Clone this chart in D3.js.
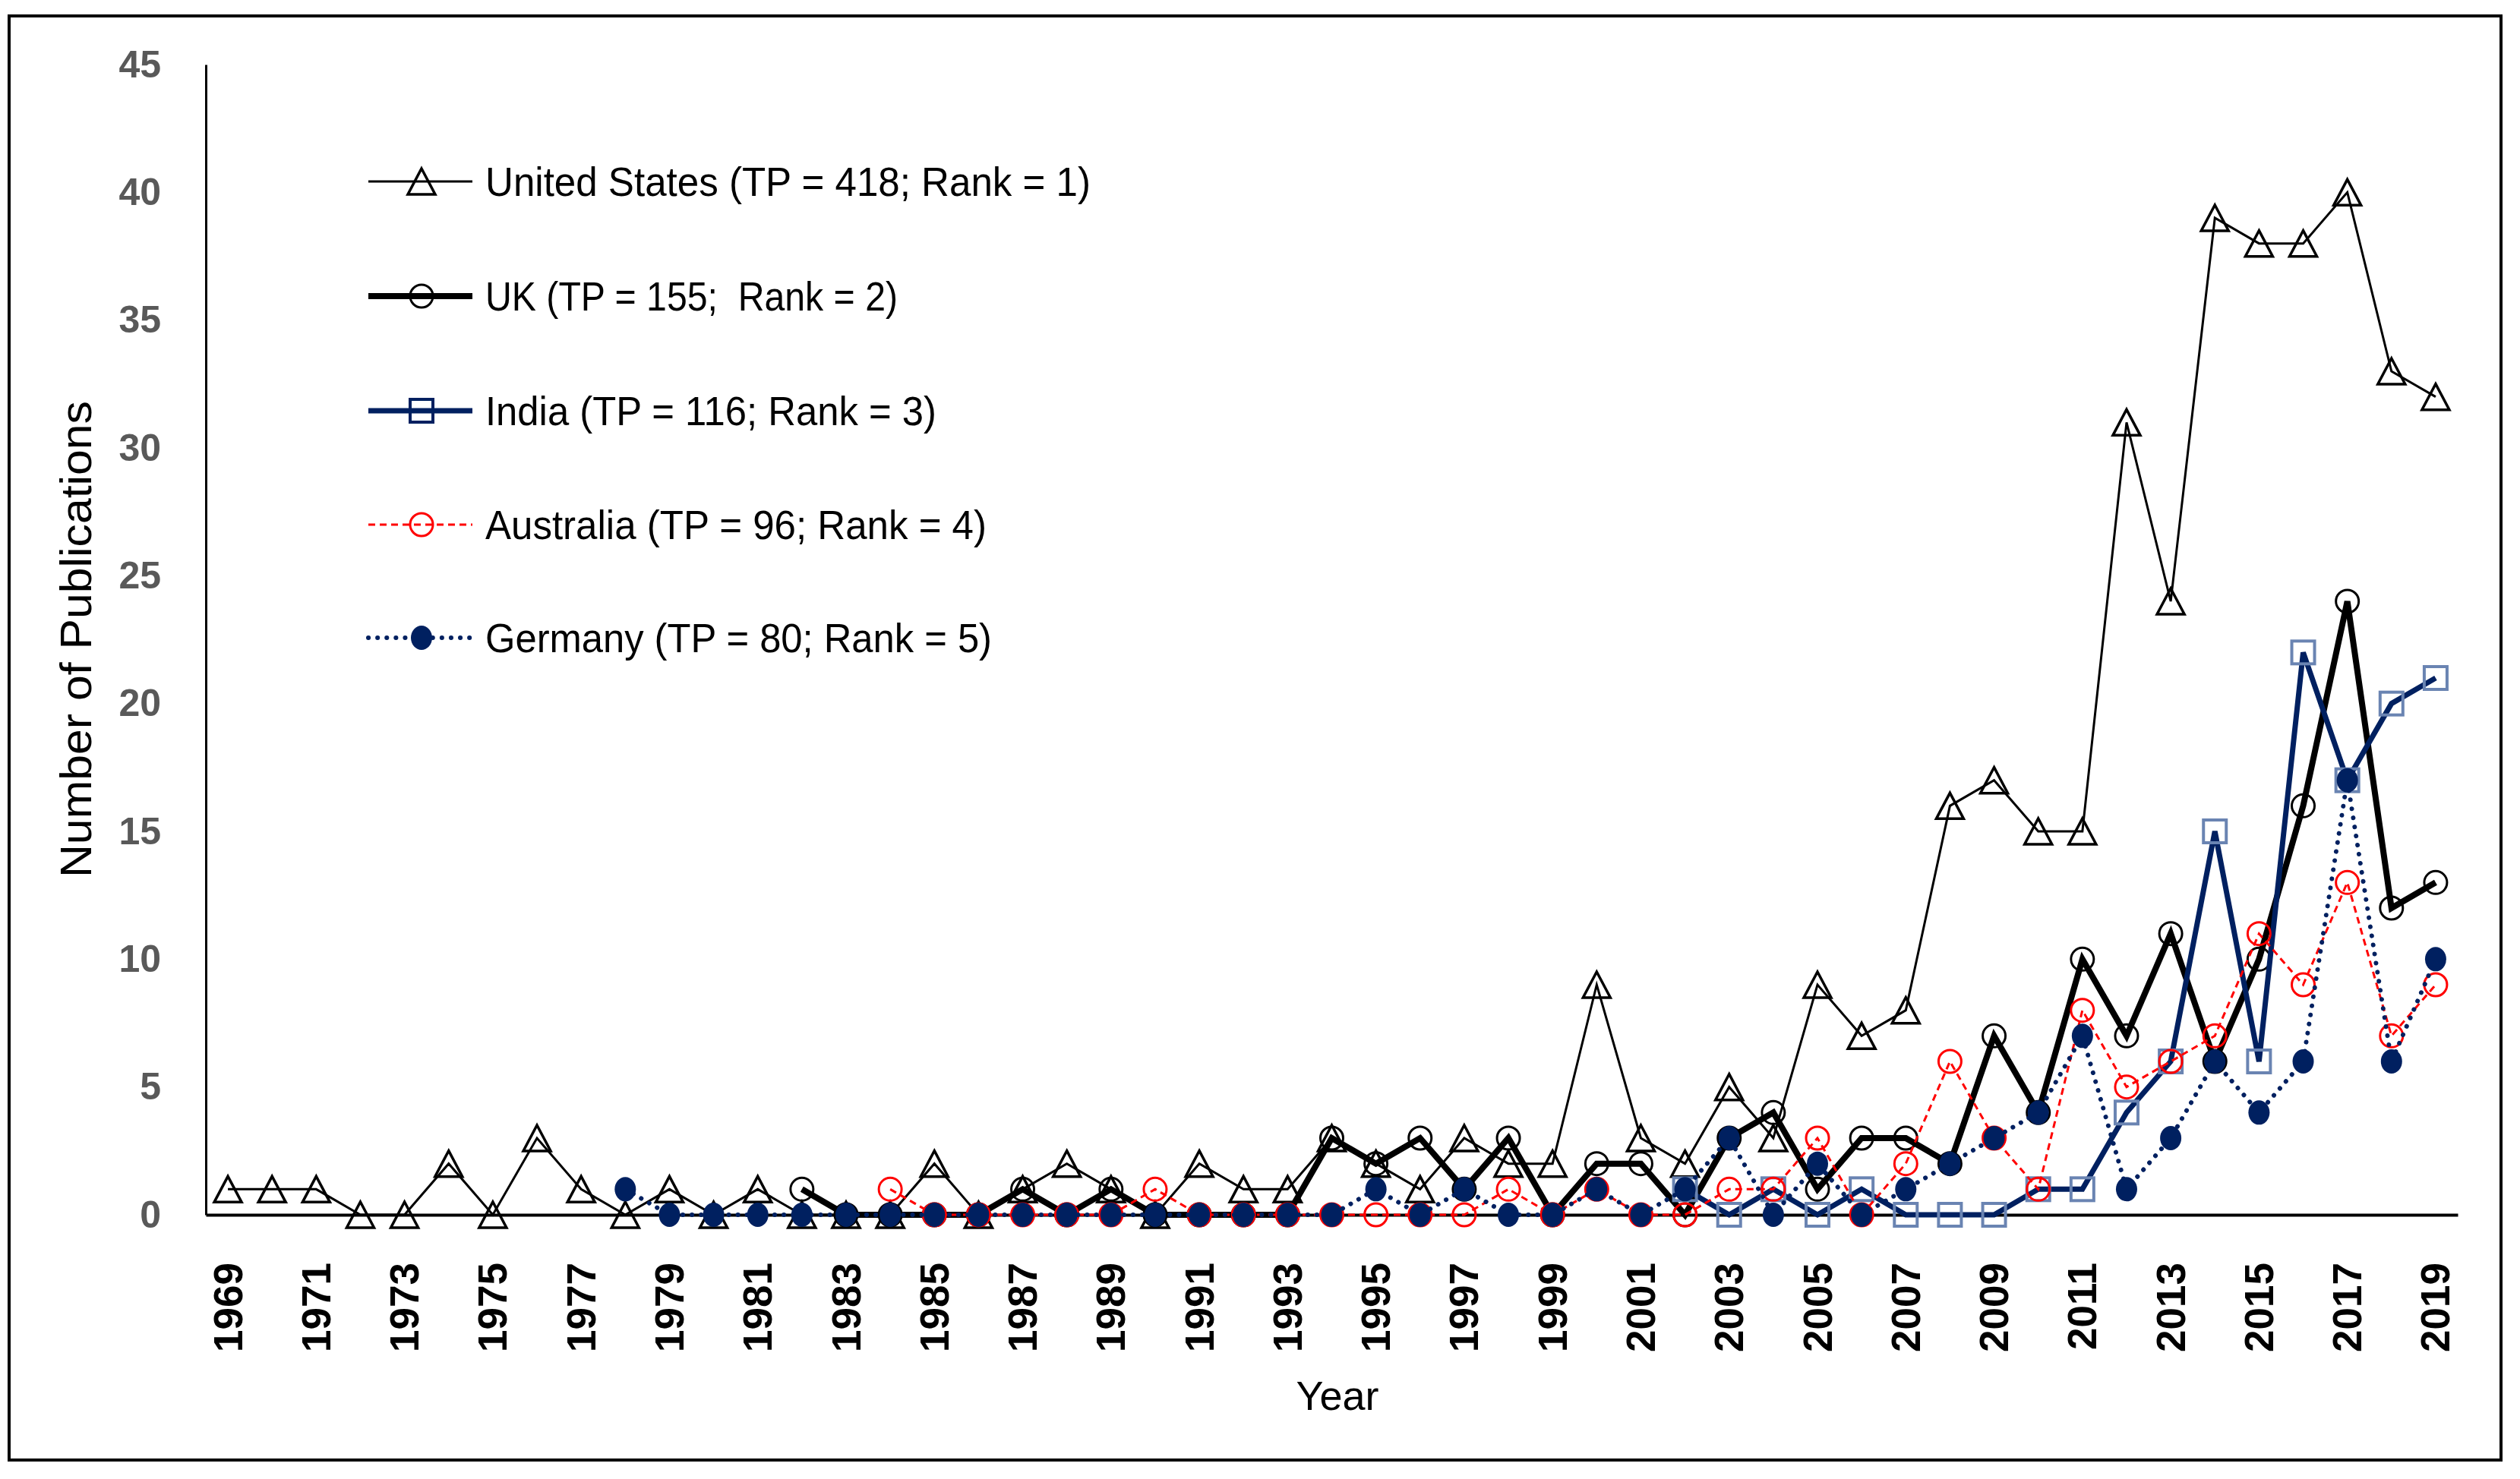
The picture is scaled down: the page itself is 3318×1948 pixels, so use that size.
<!DOCTYPE html>
<html>
<head>
<meta charset="utf-8">
<script src="https://cdn.jsdelivr.net/npm/d3@7/dist/d3.min.js"></script>
<style>
  html, body { margin: 0; padding: 0; background: #fff; }
  svg { display: block; }
</style>
</head>
<body>
<svg id="chart" width="3318" height="1948"></svg>
<script>
// ---------------- DATA ----------------
const years = [1969,1970,1971,1972,1973,1974,1975,1976,1977,1978,1979,
  1980,1981,1982,1983,1984,1985,1986,1987,1988,1989,
  1990,1991,1992,1993,1994,1995,1996,1997,1998,1999,
  2000,2001,2002,2003,2004,2005,2006,2007,2008,2009,
  2010,2011,2012,2013,2014,2015,2016,2017,2018,2019];
const xTickLabels = ["1969","1971","1973","1975","1977","1979","1981","1983","1985","1987","1989",
  "1991","1993","1995","1997","1999","2001","2003","2005","2007","2009","2011","2013","2015","2017","2019"];
const yTicks = [0,5,10,15,20,25,30,35,40,45];

const usStart = 1969;
const usValues = [1,1,1,0,0,2,0,3,1,0,1,
  0,1,0,0,0,2,0,1,2,1,
  0,2,1,1,3,2,1,3,2,2,
  9,3,2,5,3,9,7,8,16,17,
  15,15,31,24,39,38,38,40,33,32];
const ukStart = 1982;
const ukValues = [1,0,0,0,0,1,0,1,
  0,0,0,0,3,2,3,1,3,0,
  2,2,0,3,4,1,3,3,2,7,
  4,10,7,11,6,10,16,24,12,13];
const indiaStart = 2002;
const indiaValues = [1,0,1,0,1,0,0,0,
  1,1,4,6,15,6,22,17,20,21];
const ausStart = 1984;
const ausValues = [1,0,0,0,0,0,
  1,0,0,0,0,0,0,0,1,0,
  1,0,0,1,1,3,0,2,6,3,
  1,8,5,6,7,11,9,13,7,9];
const gerStart = 1978;
const gerValues = [1,0,
  0,0,0,0,0,0,0,0,0,0,
  0,0,0,0,0,1,0,1,0,0,
  1,0,1,3,0,2,0,1,2,3,
  4,7,1,3,6,4,6,17,6,10];

const seriesNames = [
  "United States (TP = 418; Rank = 1)",
  "UK (TP = 155;  Rank = 2)",
  "India (TP = 116; Rank = 3)",
  "Australia (TP = 96; Rank = 4)",
  "Germany (TP = 80; Rank = 5)"
];

// ---------------- LAYOUT ----------------
const svg = d3.select("#chart");
const W = 3318, H = 1948;
const plotL = 271, plotR = 3236, plotT = 85, plotB = 1600;
const FONT = "'Liberation Sans', Arial, sans-serif";

svg.append("rect").attr("x", 0).attr("y", 0).attr("width", W).attr("height", H).attr("fill", "#fff");
// outer frame
svg.append("rect").attr("x", 12).attr("y", 21).attr("width", 3281).attr("height", 1902)
  .attr("fill", "none").attr("stroke", "#000").attr("stroke-width", 4);

const x = d3.scaleBand().domain(years).range([plotL, plotR]).paddingInner(0).paddingOuter(0);
const cx = yr => x(yr) + x.bandwidth() / 2;
const y = d3.scaleLinear().domain([0, 45]).range([plotB, plotT]);

// axes
const yAxis = d3.axisLeft(y).tickValues(yTicks).tickSize(0).tickSizeOuter(0).tickPadding(59);
const gy = svg.append("g").attr("transform", `translate(${plotL},0)`).call(yAxis);
gy.select(".domain").attr("stroke", "#000").attr("stroke-width", 3);
gy.selectAll("text").attr("font-family", FONT).attr("font-size", 50).attr("font-weight", "bold")
  .attr("fill", "#595959");

const xAxis = d3.axisBottom(x).tickValues(xTickLabels.map(Number)).tickSize(0).tickSizeOuter(0);
const gx = svg.append("g").attr("transform", `translate(0,${plotB})`).call(xAxis);
gx.select(".domain").attr("stroke", "#000").attr("stroke-width", 4);
gx.selectAll("text")
  .attr("font-family", FONT).attr("font-size", 53).attr("font-weight", "bold").attr("fill", "#000")
  .attr("transform", "rotate(-90)")
  .attr("x", -63).attr("y", 0).attr("dy", "0.35em")
  .style("text-anchor", "end");

// axis titles
svg.append("text").attr("transform", "translate(120,842) rotate(-90)")
  .attr("text-anchor", "middle").attr("font-family", FONT).attr("font-size", 58)
  .attr("fill", "#000").attr("textLength", 628).attr("lengthAdjust", "spacingAndGlyphs")
  .text("Number of Publications");
svg.append("text").attr("x", 1761).attr("y", 1857)
  .attr("text-anchor", "middle").attr("font-family", FONT).attr("font-size", 54)
  .attr("fill", "#000").text("Year");

// ---------------- SERIES ----------------
function build(start, vals) { return vals.map((v, i) => ({ year: start + i, value: v })); }

const NAVY = "#002060";
const series = [
  { name: seriesNames[0], data: build(usStart, usValues), color: "#000", width: 3, dash: null, cap: "butt",
    marker: "triangle", mStroke: "#000", mFill: "none", legendMStroke: "#000" },
  { name: seriesNames[1], data: build(ukStart, ukValues), color: "#000", width: 8, dash: null, cap: "butt",
    marker: "circle", mStroke: "#000", mFill: "none", legendMStroke: "#000" },
  { name: seriesNames[2], data: build(indiaStart, indiaValues), color: NAVY, width: 7, dash: null, cap: "butt",
    marker: "square", mStroke: "#6a84b2", mFill: "none", legendMStroke: NAVY },
  { name: seriesNames[3], data: build(ausStart, ausValues), color: "#ff0000", width: 3, dash: "9,6", cap: "butt",
    marker: "circle", mStroke: "#ff0000", mFill: "none", legendMStroke: "#ff0000" },
  { name: seriesNames[4], data: build(gerStart, gerValues), color: NAVY, width: 6, dash: "0.1,12", cap: "round",
    marker: "dot", mStroke: NAVY, mFill: NAVY, legendMStroke: NAVY }
];

const line = d3.line().x(d => cx(d.year)).y(d => y(d.value));

function drawMarker(g, type, px, py, stroke, fill) {
  if (type === "triangle") {
    g.append("path").attr("d", `M${px},${py - 17} L${px + 18},${py + 17} L${px - 18},${py + 17} Z`)
      .attr("fill", fill).attr("stroke", stroke).attr("stroke-width", 3.5).attr("stroke-linejoin", "miter");
  } else if (type === "circle") {
    g.append("circle").attr("cx", px).attr("cy", py).attr("r", 15)
      .attr("fill", fill).attr("stroke", stroke).attr("stroke-width", 3);
  } else if (type === "square") {
    g.append("rect").attr("x", px - 15).attr("y", py - 15).attr("width", 30).attr("height", 30)
      .attr("fill", fill).attr("stroke", stroke).attr("stroke-width", 4);
  } else if (type === "dot") {
    g.append("ellipse").attr("cx", px).attr("cy", py).attr("rx", 14).attr("ry", 16)
      .attr("fill", fill).attr("stroke", "none");
  }
}

series.forEach(s => {
  const g = svg.append("g");
  g.append("path").datum(s.data).attr("d", line)
    .attr("fill", "none").attr("stroke", s.color).attr("stroke-width", s.width)
    .attr("stroke-dasharray", s.dash).attr("stroke-linecap", s.cap).attr("stroke-linejoin", "miter");
  s.data.forEach(d => drawMarker(g, s.marker, cx(d.year), y(d.value), s.mStroke, s.mFill));
});

// ---------------- LEGEND ----------------
const legendY = [239, 390, 541, 691, 840];
const legendTextEnd = [1436, 1182, 1233, 1299, 1306];
const legX0 = 485, legX1 = 622, legMX = 555, legTX = 639;
series.forEach((s, i) => {
  const g = svg.append("g");
  const ly = legendY[i];
  g.append("line").attr("x1", legX0).attr("x2", legX1).attr("y1", ly).attr("y2", ly)
    .attr("stroke", s.color).attr("stroke-width", s.width)
    .attr("stroke-dasharray", s.dash).attr("stroke-linecap", s.cap);
  drawMarker(g, s.marker, legMX, ly, s.legendMStroke, s.mFill);
  g.append("text").attr("x", legTX).attr("y", ly).attr("dy", "0.36em")
    .attr("font-family", FONT).attr("font-size", 54).attr("fill", "#000")
    .attr("textLength", legendTextEnd[i] - legTX).attr("lengthAdjust", "spacingAndGlyphs")
    .style("white-space", "pre")
    .text(s.name);
});
</script>
</body>
</html>
